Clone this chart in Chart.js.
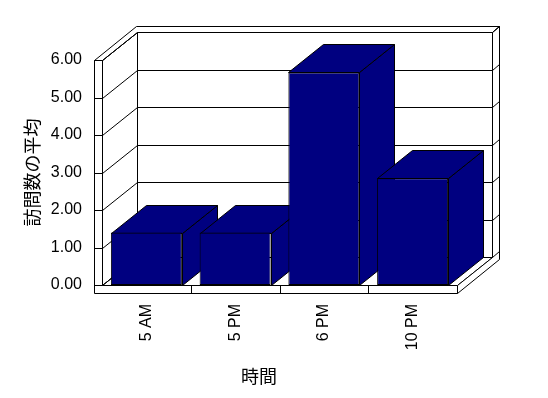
<!DOCTYPE html>
<html>
<head>
<meta charset="utf-8">
<script src="https://cdn.jsdelivr.net/npm/chart.js@4"></script>
<style>
  body { margin: 0; background: #fff; }
  canvas { display: block; }
</style>
</head>
<body>
<canvas id="myChart" width="548" height="398"></canvas>
<script>
const categories = ["5 AM", "5 PM", "6 PM", "10 PM"];
const avgVisits = [1.4, 1.4, 5.67, 2.85];
const yTicks = [0, 1, 2, 3, 4, 5, 6];
const yTitle = "訪問数の平均";
const xTitle = "時間";

const barColor = "#000080";
// depth of the fake 3D box
const depthX = 35, depthY = -28;
const wallW = 8, floorH = 8, backT = 0.2;

function proj(x, y, z) {
  return [x + z * depthX, y + z * depthY];
}

function poly(ctx, pts, fill) {
  ctx.beginPath();
  pts.forEach((p, i) => {
    const px = Math.round(p[0]) + 0.5, py = Math.round(p[1]) + 0.5;
    if (i) ctx.lineTo(px, py); else ctx.moveTo(px, py);
  });
  ctx.closePath();
  if (fill) { ctx.fillStyle = fill; ctx.fill(); }
  ctx.stroke();
}

function line(ctx, a, b) {
  ctx.beginPath();
  ctx.moveTo(Math.round(a[0]) + 0.5, Math.round(a[1]) + 0.5);
  ctx.lineTo(Math.round(b[0]) + 0.5, Math.round(b[1]) + 0.5);
  ctx.stroke();
}

const box3d = {
  id: "box3d",
  beforeDatasetsDraw(chart) {
    const ctx = chart.ctx;
    const { left: L, right: R, top: T, bottom: B } = chart.chartArea;
    const yScale = chart.scales.y, xScale = chart.scales.x;
    const ze = 1 + backT;
    ctx.save();
    ctx.lineWidth = 1;
    ctx.strokeStyle = "#000";

    // walls and floor
    poly(ctx, [proj(L, T, 1), proj(R, T, 1), proj(R, B, 1), proj(L, B, 1)], "#fff");
    poly(ctx, [proj(L, T, 0), proj(L, T, 1), proj(L, B, 1), proj(L, B, 0)], "#fff");
    poly(ctx, [proj(L, B, 0), proj(R, B, 0), proj(R, B, 1), proj(L, B, 1)], "#fff");
    poly(ctx, [proj(L - wallW, T, 0), proj(L, T, 0), proj(L, T, 1), proj(R, T, 1),
               proj(R, T, ze), proj(L - wallW, T, ze)], "#fff");
    poly(ctx, [proj(R, T, 1), proj(R, T, ze), proj(R, B + floorH, ze),
               proj(R, B + floorH, 0), proj(R, B, 0), proj(R, B, 1)], "#fff");
    poly(ctx, [[L - wallW, T], [L, T], [L, B], [R, B], [R, B + floorH], [L - wallW, B + floorH]], "#fff");

    // gridlines
    yTicks.forEach(v => {
      const y = yScale.getPixelForValue(v);
      line(ctx, proj(L, y, 1), proj(R, y, 1));
      line(ctx, proj(L, y, 0), proj(L, y, 1));
      line(ctx, [L - wallW, y], [L, y]);
      line(ctx, proj(R, y, 1), proj(R, y, ze));
    });
    for (let i = 1; i < categories.length; i++) {
      const x = (xScale.getPixelForValue(i - 1) + xScale.getPixelForValue(i)) / 2;
      line(ctx, [x, B], [x, B + floorH]);
    }

    // top and side of each bar
    chart.getDatasetMeta(0).data.forEach(bar => {
      const { x, y, base, width } = bar.getProps(["x", "y", "base", "width"], true);
      const x1 = x - width / 2, x2 = x + width / 2;
      poly(ctx, [proj(x2, y, 0), proj(x2, y, 1), proj(x2, base, 1), proj(x2, base, 0)], barColor);
      poly(ctx, [proj(x1, y, 0), proj(x2, y, 0), proj(x2, y, 1), proj(x1, y, 1)], barColor);
    });
    ctx.restore();
  },
  afterDraw(chart) {
    const ctx = chart.ctx;
    ctx.save();
    ctx.fillStyle = "#000";
    ctx.font = "18px 'Noto Sans CJK JP', sans-serif";
    ctx.textAlign = "center";
    ctx.textBaseline = "middle";
    ctx.fillText(xTitle, 259, 376);
    ctx.restore();
  }
};

const tickFont = { family: "'Liberation Sans', Arial, sans-serif", size: 16 };

const ctx = document.getElementById("myChart");
const myChart = new Chart(ctx, {
  type: "bar",
  data: {
    labels: categories,
    datasets: [
      {
        data: avgVisits,
        backgroundColor: barColor,
        borderColor: "#000",
        borderWidth: 1,
        borderSkipped: false,
        inflateAmount: 0,
        barPercentage: 0.8,
        categoryPercentage: 1.0,
      },
    ],
  },
  options: {
    responsive: false,
    animation: false,
    layout: { padding: { top: 60, right: 91, left: 0, bottom: 0 } },
    plugins: {
      legend: { display: false },
      tooltip: { enabled: false },
    },
    scales: {
      x: {
        grid: { display: false },
        border: { display: false },
        ticks: {
          color: "#000",
          font: tickFont,
          minRotation: 90,
          maxRotation: 90,
          autoSkip: false,
          padding: 11,
        },
        afterFit(scale) { scale.height = 113; },
      },
      y: {
        min: yTicks[0],
        max: yTicks[yTicks.length - 1],
        grid: { display: false },
        border: { display: false },
        ticks: {
          color: "#000",
          font: tickFont,
          stepSize: 1,
          padding: 12,
          callback: v => v.toFixed(2),
        },
        title: {
          display: true,
          text: yTitle,
          color: "#000",
          font: { family: "'Noto Sans CJK JP', sans-serif", size: 18 },
          padding: { top: 21, bottom: 0 },
        },
        afterFit(scale) { scale.width = 102; },
      },
    },
  },
  plugins: [box3d],
});
</script>
</body>
</html>
